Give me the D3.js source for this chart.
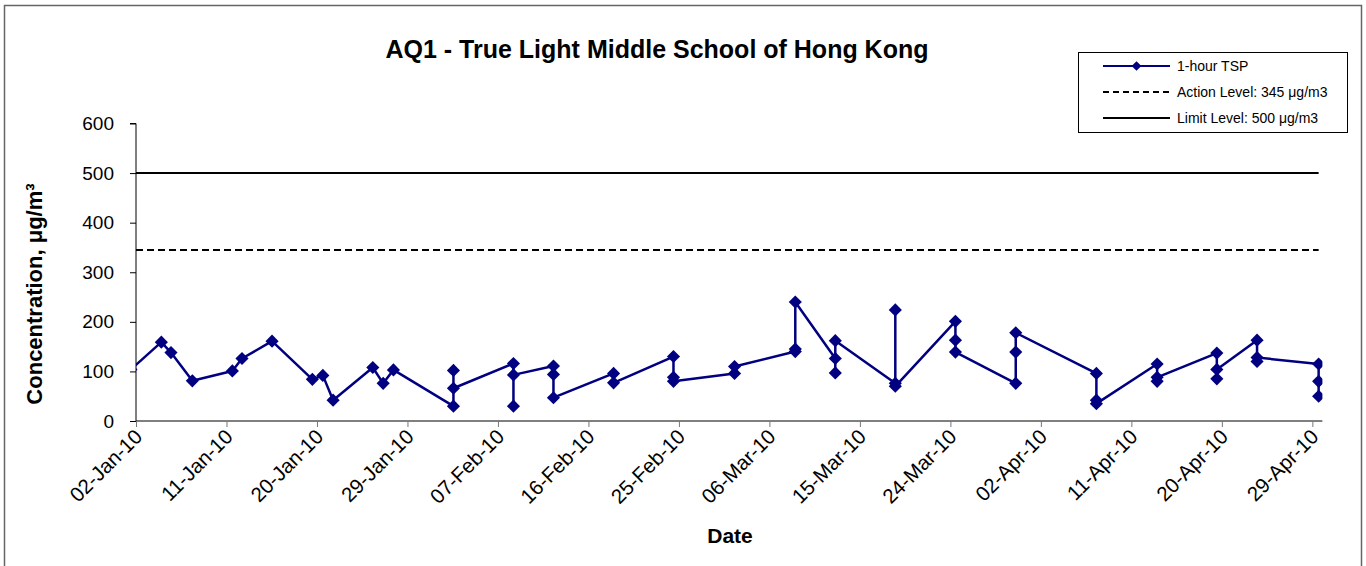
<!DOCTYPE html>
<html>
<head>
<meta charset="utf-8">
<script src="https://cdn.jsdelivr.net/npm/d3@7/dist/d3.min.js"></script>
<style>
  html, body { margin: 0; padding: 0; background: #fff; }
  svg { display: block; font-family: "Liberation Sans", Arial, sans-serif; }
</style>
</head>
<body>
<svg id="chart" width="1366" height="566"></svg>
<script>
// ---------------- DATA ----------------
const chartTitle = "AQ1 - True Light Middle School of Hong Kong";
const xAxisTitle = "Date";
const yAxisTitle = "Concentration, μg/m³";

// sampling times (one per 1-hour reading) and 1-hour TSP values (μg/m3)
const sampleTimes = [
  "2010-01-01T12:00",
  "2010-01-04T12:30", "2010-01-05T11:30", "2010-01-07T14:30",
  "2010-01-11T14:00", "2010-01-12T13:00", "2010-01-15T12:45",
  "2010-01-19T13:00", "2010-01-20T14:00", "2010-01-21T14:30",
  "2010-01-25T13:15", "2010-01-26T14:00", "2010-01-27T14:30",
  "2010-02-02T13:45", "2010-02-02T13:45", "2010-02-02T13:45",
  "2010-02-08T13:00", "2010-02-08T13:00", "2010-02-08T13:00",
  "2010-02-12T12:30", "2010-02-12T12:30", "2010-02-12T12:30",
  "2010-02-18T12:00", "2010-02-18T12:00",
  "2010-02-24T11:00", "2010-02-24T11:00", "2010-02-24T11:00",
  "2010-03-02T12:45", "2010-03-02T12:45",
  "2010-03-08T13:45", "2010-03-08T13:45", "2010-03-08T13:45",
  "2010-03-12T13:15", "2010-03-12T13:15", "2010-03-12T13:15",
  "2010-03-18T12:30", "2010-03-18T12:30", "2010-03-18T12:30",
  "2010-03-24T12:00", "2010-03-24T12:00", "2010-03-24T12:00",
  "2010-03-30T12:00", "2010-03-30T12:00", "2010-03-30T12:00",
  "2010-04-07T12:30", "2010-04-07T12:30", "2010-04-07T12:30",
  "2010-04-13T13:30", "2010-04-13T13:30", "2010-04-13T13:30",
  "2010-04-19T12:00", "2010-04-19T12:00", "2010-04-19T12:00",
  "2010-04-23T12:00", "2010-04-23T12:00", "2010-04-23T12:00",
  "2010-04-29T15:00", "2010-04-29T15:00", "2010-04-29T15:00"
];
const tspValues = [
  104,
  159, 138, 81,
  101, 126, 161,
  84, 92, 42,
  108, 76, 103,
  30, 102, 66,
  116, 30, 93,
  111, 94, 47,
  96, 77,
  130, 88, 80,
  96, 110,
  140, 145, 240,
  126, 97, 162,
  76, 224, 70,
  201, 163, 139,
  76, 139, 178,
  96, 42, 35,
  115, 80, 88,
  137, 85, 104,
  163, 120, 128,
  115, 80, 50
];

const actionLevel = 345;
const limitLevel = 500;

const xDomainDates = ["2010-01-02", "2010-04-30"];
const xTickDates = ["2010-01-02", "2010-01-11", "2010-01-20", "2010-01-29", "2010-02-07",
  "2010-02-16", "2010-02-25", "2010-03-06", "2010-03-15", "2010-03-24",
  "2010-04-02", "2010-04-11", "2010-04-20", "2010-04-29"];
const yTicks = [0, 100, 200, 300, 400, 500, 600];

const legendLabels = ["1-hour TSP", "Action Level: 345 μg/m3", "Limit Level: 500 μg/m3"];

// ---------------- DRAW ----------------
const parseT = d3.timeParse("%Y-%m-%dT%H:%M");
const parseD = d3.timeParse("%Y-%m-%d");
const fmt = d3.timeFormat("%d-%b-%y");

const data = sampleTimes.map((t, i) => ({ t: parseT(t), v: tspValues[i] }));

const svg = d3.select("#chart");
const plot = { left: 136, right: 1322.4, top: 123.5, bottom: 421 };

const x = d3.scaleTime().domain(xDomainDates.map(parseD)).range([plot.left, plot.right]);
const y = d3.scaleLinear().domain([0, 600]).range([plot.bottom, plot.top]);

// outer border
svg.append("rect").attr("x", 4.5).attr("y", 5.5).attr("width", 1357).attr("height", 570)
  .attr("fill", "none").attr("stroke", "#666").attr("stroke-width", 1.5);

// title
svg.append("text").attr("x", 657).attr("y", 58).attr("text-anchor", "middle")
  .attr("font-size", 25).attr("font-weight", "bold").text(chartTitle);

// clip
svg.append("clipPath").attr("id", "plotclip").append("rect")
  .attr("x", plot.left).attr("y", 0).attr("width", plot.right - plot.left).attr("height", plot.bottom + 10);

// y axis
const yAxis = svg.append("g").attr("transform", `translate(${plot.left},0)`)
  .call(d3.axisLeft(y).tickValues(yTicks).tickSize(6).tickPadding(16).tickFormat(d3.format("d")));
yAxis.selectAll("text").attr("font-size", 19).attr("fill", "#000").attr("font-family", "Liberation Sans, Arial, sans-serif");
yAxis.selectAll("line").attr("stroke", "#000");
yAxis.select(".domain").attr("stroke", "#000").attr("d", `M-6,${plot.top}H0V${plot.bottom}`);

// x axis
const xAxis = svg.append("g").attr("transform", `translate(0,${plot.bottom})`)
  .call(d3.axisBottom(x).tickValues(xTickDates.map(parseD)).tickSize(6).tickFormat(fmt));
xAxis.select(".domain").attr("stroke", "#000").attr("d", `M${plot.left},0H${plot.right}`);
xAxis.selectAll("line").attr("stroke", "#777");
xAxis.selectAll("text")
  .attr("font-size", 20.5).attr("fill", "#000").attr("font-family", "Liberation Sans, Arial, sans-serif")
  .attr("text-anchor", "end")
  .attr("dy", null).attr("y", 0)
  .attr("transform", "translate(7,17) rotate(-45)");

// axis titles
svg.append("text").attr("transform", `translate(42,294) rotate(-90)`).attr("text-anchor", "middle")
  .attr("font-size", 22).attr("font-weight", "bold").text(yAxisTitle);
svg.append("text").attr("x", 730).attr("y", 543).attr("text-anchor", "middle")
  .attr("font-size", 21).attr("font-weight", "bold").text(xAxisTitle);

// level lines (span the data period)
const tExtent = [x.domain()[0], d3.max(data, d => d.t)];
svg.append("line").attr("x1", x(tExtent[0])).attr("x2", x(tExtent[1]))
  .attr("y1", y(limitLevel)).attr("y2", y(limitLevel))
  .attr("stroke", "#000").attr("stroke-width", 2);
svg.append("line").attr("x1", x(tExtent[0])).attr("x2", x(tExtent[1]))
  .attr("y1", y(actionLevel)).attr("y2", y(actionLevel))
  .attr("stroke", "#000").attr("stroke-width", 2).attr("stroke-dasharray", "7,4");

// TSP series
const navy = "#000080";
const g = svg.append("g").attr("clip-path", "url(#plotclip)");
g.append("path").datum(data)
  .attr("d", d3.line().x(d => x(d.t)).y(d => y(d.v)))
  .attr("fill", "none").attr("stroke", navy).attr("stroke-width", 2.5).attr("stroke-linejoin", "round");
const diamond = d3.symbol().type(d3.symbolDiamond2).size(110);
g.selectAll("path.pt").data(data).join("path").attr("class", "pt")
  .attr("transform", d => `translate(${x(d.t)},${y(d.v)})`)
  .attr("d", diamond).attr("fill", navy);

// legend
const lg = svg.append("g");
lg.append("rect").attr("x", 1078.5).attr("y", 52.5).attr("width", 269).attr("height", 80)
  .attr("fill", "#fff").attr("stroke", "#000").attr("stroke-width", 1);
const ly = [66, 92, 118];
legendLabels.forEach((lab, i) => {
  const line = lg.append("line").attr("x1", 1103).attr("x2", 1170).attr("y1", ly[i]).attr("y2", ly[i])
    .attr("stroke", i === 0 ? navy : "#000").attr("stroke-width", 2);
  if (i === 1) line.attr("stroke-dasharray", "6,4");
  if (i === 0) lg.append("path").attr("transform", `translate(1136.5,${ly[i]})`).attr("d", d3.symbol().type(d3.symbolDiamond2).size(60)).attr("fill", navy);
  lg.append("text").attr("x", 1177).attr("y", ly[i] + 5).attr("font-size", 14).text(lab);
});
</script>
</body>
</html>
